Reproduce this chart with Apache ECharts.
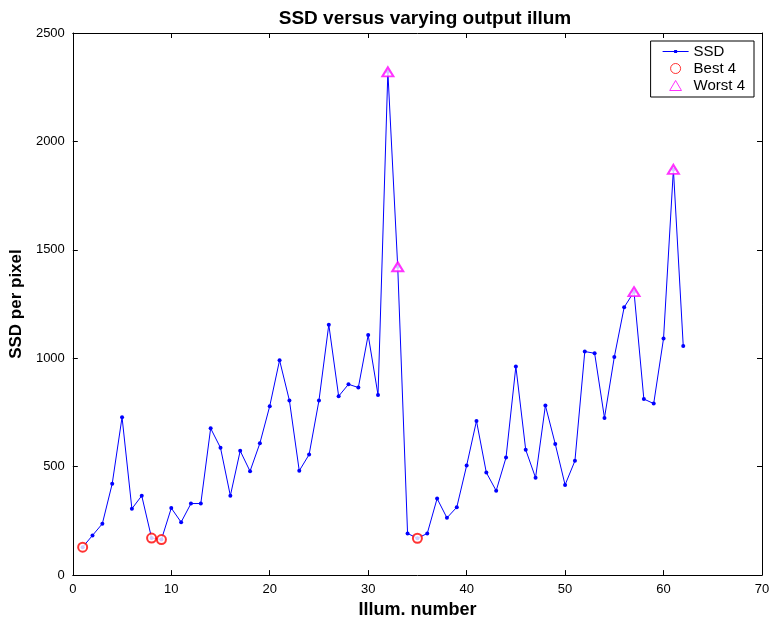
<!DOCTYPE html>
<html>
<head>
<meta charset="utf-8">
<script src="https://cdn.jsdelivr.net/npm/echarts@6/dist/echarts.min.js"></script>
<style>
    html, body { margin: 0; padding: 0; background: #fff; }
    #chart { width: 774px; height: 624px; }
</style>
</head>
<body>
<div id="chart"></div>
<script>
// SSD per pixel for each illuminant (1..62)
var ssdValues = [
    129, 183, 237, 421, 728, 306, 366, 171, 164, 309,
    244, 330, 330, 677, 587, 366, 573, 479, 608, 779,
    991, 805, 481, 556, 805, 1155, 825, 880, 865, 1107,
    831, 2321, 1422, 192, 170, 192, 353, 264, 313, 505,
    711, 473, 389, 542, 962, 578, 449, 782, 605, 416,
    527, 1031, 1023, 725, 1006, 1235, 1307, 812, 791, 1091,
    1871, 1057
];
var bestIllums = [1, 8, 9, 35];
var worstIllums = [32, 33, 57, 61];
var xTicks = [0, 10, 20, 30, 40, 50, 60, 70];
var yTicks = [0, 500, 1000, 1500, 2000, 2500];

document.addEventListener('DOMContentLoaded', function () {
    var chart = echarts.init(document.getElementById('chart'));
    var font = 'Liberation Sans, Arial, Helvetica, sans-serif';

    var ssdData = ssdValues.map(function (v, i) { return [i + 1, v]; });
    var bestData = bestIllums.map(function (n) { return [n, ssdValues[n - 1]]; });
    var worstData = worstIllums.map(function (n) { return [n, ssdValues[n - 1]]; });

    var axisCommon = {
        type: 'value',
        splitLine: { show: false },
        axisLine: { show: true, onZero: false, lineStyle: { color: '#000', width: 1 } },
        axisTick: { show: true, inside: true, length: 5, lineStyle: { color: '#000' } }
    };
    var plain = function (v) { return String(v); };

    var option = {
        animation: false,
        backgroundColor: '#fff',
        title: {
            text: 'SSD versus varying output illum',
            left: 420,
            textAlign: 'center',
            top: 4,
            textStyle: { fontFamily: font, fontSize: 19, fontWeight: 'bold', color: '#000' }
        },
        grid: { left: 72, right: 12, top: 33, bottom: 47 },
        legend: {
            right: 20,
            top: 41,
            orient: 'vertical',
            backgroundColor: '#fff',
            borderColor: '#000',
            borderWidth: 1,
            borderRadius: 0,
            padding: [3, 9, 4, 12],
            itemGap: 2,
            itemWidth: 26,
            itemHeight: 10,
            textStyle: { fontFamily: font, fontSize: 15, color: '#000' },
            data: [
                {
                    name: 'SSD',
                    icon: 'path://M0,4.5 L26,4.5 L26,5.5 L0,5.5 Z M11.5,3.5 L14.5,3.5 L14.5,6.5 L11.5,6.5 Z',
                    itemStyle: { color: '#0000ff', borderWidth: 0 }
                },
                {
                    name: 'Best 4',
                    icon: 'circle',
                    itemStyle: { color: '#fff', borderColor: '#ff0000', borderWidth: 1 }
                },
                {
                    name: 'Worst 4',
                    icon: 'path://M5,0 L10,8.5 L0,8.5 Z',
                    itemStyle: { color: '#fff', borderColor: '#ff00ff', borderWidth: 1 }
                }
            ]
        },
        xAxis: [
            Object.assign({}, axisCommon, {
                min: xTicks[0],
                max: xTicks[xTicks.length - 1],
                interval: 10,
                name: 'Illum. number',
                nameLocation: 'middle',
                nameGap: 25,
                nameTextStyle: { fontFamily: font, fontSize: 18, fontWeight: 'bold', color: '#000' },
                axisLabel: { fontFamily: font, fontSize: 13, color: '#000', margin: 8, formatter: plain }
            }),
            Object.assign({}, axisCommon, {
                position: 'top',
                min: xTicks[0],
                max: xTicks[xTicks.length - 1],
                interval: 10,
                axisLabel: { show: false }
            })
        ],
        yAxis: [
            Object.assign({}, axisCommon, {
                min: yTicks[0],
                max: yTicks[yTicks.length - 1],
                interval: 500,
                name: 'SSD per pixel',
                nameLocation: 'middle',
                nameGap: 40,
                nameTextStyle: { fontFamily: font, fontSize: 17, fontWeight: 'bold', color: '#000' },
                axisLabel: { fontFamily: font, fontSize: 13, color: '#000', margin: 8, formatter: plain }
            }),
            Object.assign({}, axisCommon, {
                position: 'right',
                min: yTicks[0],
                max: yTicks[yTicks.length - 1],
                interval: 500,
                axisLabel: { show: false }
            })
        ],
        series: [
            {
                name: 'SSD',
                type: 'line',
                data: ssdData,
                symbol: 'circle',
                symbolSize: 4,
                showAllSymbol: true,
                color: '#0000ff',
                lineStyle: { color: '#0000ff', width: 1 },
                itemStyle: { color: '#0000ff' },
                z: 3
            },
            {
                name: 'Best 4',
                type: 'scatter',
                data: bestData,
                symbol: 'emptyCircle',
                symbolSize: 9,
                color: '#ff0000',
                itemStyle: { color: '#ff0000', borderColor: '#ff0000', borderWidth: 1 },
                z: 4
            },
            {
                name: 'Worst 4',
                type: 'scatter',
                data: worstData,
                symbol: 'emptyTriangle',
                symbolSize: [11, 9],
                color: '#ff00ff',
                itemStyle: { color: '#ff00ff', borderColor: '#ff00ff', borderWidth: 1 },
                z: 4
            }
        ]
    };

    chart.setOption(option);
    window.addEventListener('resize', function () {
        chart.resize();
    });
});
</script>
</body>
</html>
